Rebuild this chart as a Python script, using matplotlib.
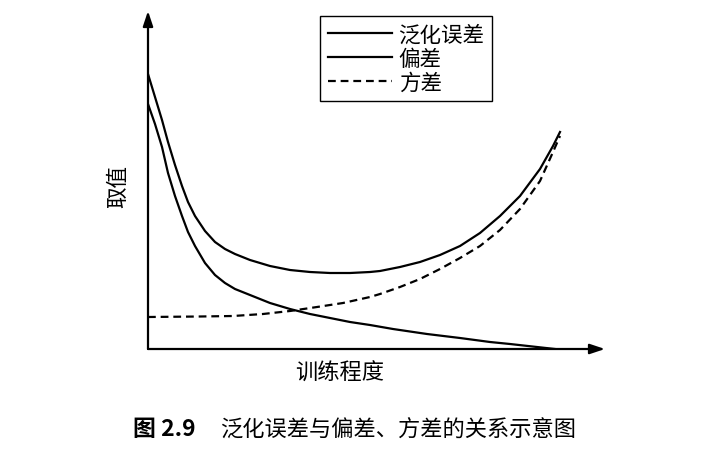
import matplotlib
matplotlib.use("Agg")
import matplotlib.pyplot as plt

plt.rcParams["font.family"] = ["Noto Sans CJK SC", "DejaVu Sans"]

# curves (arbitrary units, x: training degree, y: value)
gen_x = [0, 7, 14, 20, 27, 34, 40, 47, 57, 67, 77, 87, 97, 102, 122, 142, 162,
         182, 202, 222, 232, 252, 272, 292, 312, 332, 352, 372, 392, 405, 412]
gen_y = [275, 252, 229, 207, 184, 163, 147, 133, 118, 107, 100, 95, 91, 89, 83,
         79, 77, 76, 76, 77, 78, 82, 87, 94, 103, 116, 133, 153, 180, 203, 217]

bias_x = [0, 7, 14, 20, 27, 34, 40, 47, 57, 67, 77, 87, 97, 102, 122, 142, 162,
          182, 202, 222, 245, 279, 312, 342, 362, 407]
bias_y = [245, 225, 202, 176, 153, 133, 117, 103, 86, 74, 66, 60, 56, 54, 46,
          40, 35, 31, 27, 24, 20, 15, 11, 7, 5, 0]

var_x = [0, 52, 85, 115, 142, 169, 195, 222, 232, 252, 272, 292, 312, 332, 352,
         372, 392, 405, 412]
var_y = [32, 32.5, 33, 35, 38, 42, 46, 52, 55, 62, 70, 80, 91, 103, 119, 140,
         168, 197, 213]

labels = ["泛化误差", "偏差", "方差"]
x_label = "训练程度"
y_label = "取值"
caption_num = "图 2.9"
caption_text = "泛化误差与偏差、方差的关系示意图"

X_MAX, Y_MAX = 457, 338

fig = plt.figure(figsize=(7.07, 4.56), dpi=100)
ax = fig.add_axes([148 / 707, 106 / 456, 457 / 707, 338 / 456])
ax.set_xlim(0, X_MAX)
ax.set_ylim(0, Y_MAX)
ax.axis("off")

lw = 1.6
ax.plot(gen_x, gen_y, color="black", lw=lw, label=labels[0],
        solid_joinstyle="round")
ax.plot(bias_x, bias_y, color="black", lw=lw, label=labels[1],
        solid_joinstyle="round")
ax.plot(var_x, var_y, color="black", lw=lw, ls=(0, (3.5, 2.2)), label=labels[2])

# axes with arrow heads
arrow = dict(arrowstyle="-|>,head_length=0.9,head_width=0.3", color="black",
             lw=1.6, shrinkA=0, shrinkB=0)
ax.annotate("", xy=(0, Y_MAX), xytext=(0, 0), arrowprops=arrow,
            annotation_clip=False)
ax.annotate("", xy=(X_MAX, 0), xytext=(0, 0), arrowprops=arrow,
            annotation_clip=False)

leg = ax.legend(loc="upper left", bbox_to_anchor=(320 / 707, 1 - 17 / 456),
                bbox_transform=fig.transFigure, borderaxespad=0, fancybox=False,
                edgecolor="black", framealpha=1, fontsize=15.5, handlelength=3.0,
                handletextpad=0.3, labelspacing=0.1, borderpad=0.35)
leg.get_frame().set_linewidth(1.0)

fig.text(118 / 707, 1 - 187 / 456, y_label, rotation=90, fontsize=15.5,
         ha="center", va="center")
fig.text(340 / 707, 1 - 373 / 456, x_label, fontsize=16, ha="center",
         va="center")

fig.text(133 / 707, 1 - 430 / 456, caption_num, fontsize=16.5,
         fontweight="bold", ha="left", va="center")
fig.text(220 / 707, 1 - 430 / 456, caption_text, fontsize=16,
         ha="left", va="center")

fig.savefig("out.png", dpi=100)
